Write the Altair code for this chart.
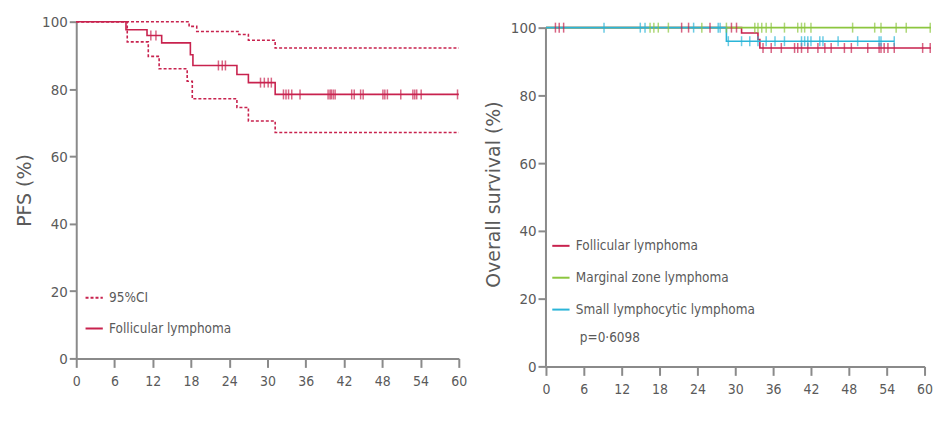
import altair as alt
import pandas as pd

# ---------------- Left panel: PFS, follicular lymphoma ----------------
pfs_month = [0, 7.8, 11.1, 13.4, 17.9, 18.3, 25.2, 27.0, 31.2, 60]
pfs_value = [100, 97.6, 95.9, 93.7, 90.2, 87.0, 84.3, 81.9, 78.4, 78.4]
ci_upper_month = [0, 17.7, 18.9, 25.5, 27.0, 31.2, 60]
ci_upper_value = [100, 98.6, 97.1, 96.2, 94.5, 92.2, 92.2]
ci_lower_month = [0, 8.0, 11.3, 13.0, 17.4, 18.2, 25.2, 27.0, 31.2, 60]
ci_lower_value = [100, 94.0, 89.7, 86.0, 82.3, 77.1, 74.5, 70.5, 67.1, 67.1]
pfs_censor_month = [11.7, 12.5, 22.3, 22.9, 23.4, 28.9, 29.5, 30.1, 30.6,
                    32.5, 32.9, 33.3, 33.8, 35.1, 39.5, 39.8, 40.0, 40.3, 40.6,
                    43.2, 43.6, 44.6, 45.0, 48.1, 48.4, 48.8, 50.9, 52.8, 53.1,
                    53.4, 54.1, 59.8]
pfs_censor_value = [95.9, 95.9, 87.0, 87.0, 87.0, 81.9, 81.9, 81.9, 81.9,
                    78.4, 78.4, 78.4, 78.4, 78.4, 78.4, 78.4, 78.4, 78.4, 78.4,
                    78.4, 78.4, 78.4, 78.4, 78.4, 78.4, 78.4, 78.4, 78.4, 78.4,
                    78.4, 78.4, 78.4]

# ---------------- Right panel: overall survival ----------------
groups = ["Follicular lymphoma", "Marginal zone lymphoma", "Small lymphocytic lymphoma"]
group_colors = ["#c8224e", "#8cc63f", "#2bb5d8"]
fl_month = [0, 31.0, 33.6, 33.9, 61.0]
fl_value = [100, 98.4, 96.5, 94.0, 94.0]
mzl_month = [0, 61.0]
mzl_value = [100, 100]
sll_month = [0, 28.6, 55.2]
sll_value = [100, 96.0, 96.0]
fl_censor_month = [1.5, 2.1, 2.8, 21.5, 22.6, 26.0, 29.4, 30.2,
                   34.4, 35.7, 37.3, 39.4, 39.9, 40.5, 41.5, 43.1, 44.2, 45.2,
                   47.3, 48.4, 51.0, 52.8, 53.1, 53.6, 54.2, 55.2, 59.7, 60.9]
fl_censor_value = [100] * 8 + [94.0] * 20
mzl_censor_month = [16.5, 17.1, 17.8, 19.4, 24.7, 28.6, 33.1, 33.6, 34.2, 34.9,
                    35.7, 37.8, 39.9, 40.5, 41.0, 42.0, 48.6, 52.1, 53.1, 55.5,
                    57.1, 60.9]
mzl_censor_value = [100] * 22
sll_censor_month = [9.2, 14.95, 15.7, 23.4, 27.3, 27.6,
                    28.9, 31.0, 32.3, 33.6, 34.9, 36.3, 37.8, 40.5, 41.0, 41.5,
                    42.0, 43.4, 43.9, 46.3, 49.4, 52.8, 53.1, 55.2]
sll_censor_value = [100] * 6 + [96.0] * 18
p_text = ["p=0·6098"]

x_ticks = [0, 6, 12, 18, 24, 30, 36, 42, 48, 54, 60]
y_ticks = [0, 20, 40, 60, 80, 100]

RED = "#c8224e"
AXIS = "#8a8a8a"
LABEL = "#5a5a5a"
NARROW = "DejaVu Sans Condensed, sans-serif"
TITLEF = "DejaVu Sans, sans-serif"

# ---------- build tables ----------
left_lines = pd.concat([
    pd.DataFrame({"month": pfs_month, "value": pfs_value,
                  "series": "Follicular lymphoma", "part": "km"}),
    pd.DataFrame({"month": ci_upper_month, "value": ci_upper_value,
                  "series": "95%CI", "part": "upper"}),
    pd.DataFrame({"month": ci_lower_month, "value": ci_lower_value,
                  "series": "95%CI", "part": "lower"}),
])
left_cens = pd.DataFrame({"month": pfs_censor_month, "value": pfs_censor_value})

right_lines = pd.concat([
    pd.DataFrame({"month": fl_month, "value": fl_value, "group": groups[0], "ord": 0}),
    pd.DataFrame({"month": mzl_month, "value": mzl_value, "group": groups[1], "ord": 1}),
    pd.DataFrame({"month": sll_month, "value": sll_value, "group": groups[2], "ord": 2}),
])
right_cens = pd.concat([
    pd.DataFrame({"month": fl_censor_month, "value": fl_censor_value, "group": groups[0], "ord": 0}),
    pd.DataFrame({"month": mzl_censor_month, "value": mzl_censor_value, "group": groups[1], "ord": 1}),
    pd.DataFrame({"month": sll_censor_month, "value": sll_censor_value, "group": groups[2], "ord": 2}),
])
right_axis = pd.DataFrame({"month": [0], "lo": [0], "hi": [100]})


def x_axis():
    return alt.Axis(values=x_ticks, title=None, grid=False, domainColor=AXIS,
                    domainWidth=2, tickColor=AXIS, tickWidth=2, tickSize=9,
                    labelFont=NARROW, labelFontSize=14, labelColor=LABEL,
                    labelPadding=7, labelFlush=False, labelOverlap=False)


def y_axis(title, domain=True, tick_size=7):
    return alt.Axis(values=y_ticks, title=title, grid=False, domain=domain,
                    domainColor=AXIS, domainWidth=2, tickColor=AXIS, tickWidth=2,
                    tickSize=tick_size, labelFont=NARROW, labelFontSize=15,
                    labelColor=LABEL, labelPadding=2, titleFont=TITLEF,
                    titleFontSize=19, titleFontWeight="normal", titleColor=LABEL,
                    titlePadding=7)


# ---------- left chart ----------
lx = alt.X("month:Q", scale=alt.Scale(domain=[0, 60], nice=False), axis=x_axis())
ly = alt.Y("value:Q", scale=alt.Scale(domain=[0, 100], nice=False),
           axis=y_axis("PFS (%)"))

left_line = alt.Chart(left_lines).mark_line(
    interpolate="step-after", color=RED, strokeWidth=1.6
).encode(
    x=lx, y=ly,
    strokeDash=alt.StrokeDash(
        "series:N",
        scale=alt.Scale(domain=["95%CI", "Follicular lymphoma"],
                        range=[[3, 2], [1, 0]]),
        legend=alt.Legend(title=None, orient="none", legendX=8, legendY=267,
                          symbolType="stroke", symbolStrokeColor=RED,
                          symbolStrokeWidth=2, symbolSize=300,
                          labelFont=NARROW, labelFontSize=13.5, labelColor=LABEL,
                          labelLimit=0, rowPadding=14, labelOffset=5),
    ),
    detail="part:N",
)
left_tick = alt.Chart(left_cens).mark_tick(
    orient="vertical", color=RED, size=10, thickness=1.5
).encode(x=lx, y=ly)

left = alt.layer(left_line, left_tick).properties(width=384, height=338)

# ---------- right chart ----------
rx = alt.X("month:Q", scale=alt.Scale(domain=[0, 60], nice=False), axis=x_axis())
ry = alt.Y("value:Q", scale=alt.Scale(domain=[0, 101.76], nice=False),
           axis=y_axis("Overall survival (%)", domain=False, tick_size=8))
color = alt.Color(
    "group:N",
    scale=alt.Scale(domain=groups, range=group_colors),
    legend=alt.Legend(title=None, orient="none", legendX=5, legendY=215,
                      symbolType="stroke", symbolStrokeWidth=2, symbolSize=300,
                      labelFont=NARROW, labelFontSize=13.5, labelColor=LABEL,
                      labelLimit=0, rowPadding=15, labelOffset=5),
)

axis_rule = alt.Chart(right_axis).mark_rule(color=AXIS, strokeWidth=2).encode(
    x=rx, y=alt.Y("lo:Q", scale=alt.Scale(domain=[0, 101.76], nice=False),
                  axis=y_axis("Overall survival (%)", domain=False, tick_size=8)),
    y2="hi:Q",
)
right_line = alt.Chart(right_lines).mark_line(
    interpolate="step-after", strokeWidth=1.6
).encode(x=rx, y=ry, color=color, order="ord:Q", detail="group:N")
right_tick = alt.Chart(right_cens).mark_tick(
    orient="vertical", size=10, thickness=1.5
).encode(x=rx, y=ry, color=alt.Color("group:N", scale=alt.Scale(domain=groups, range=group_colors), legend=None))
p_mark = alt.Chart(pd.DataFrame({"t": p_text})).mark_text(
    align="left", baseline="middle", font=NARROW, fontSize=13.5, color=LABEL
).encode(text="t:N", x=alt.value(34), y=alt.value(318))

right = alt.layer(axis_rule, right_line, right_tick, p_mark).properties(
    width=380, height=346)

chart = alt.hconcat(left, right, spacing=16.5).resolve_scale(
    x="independent", y="independent", color="independent", strokeDash="independent"
).properties(
    padding={"left": 7.5, "top": 6, "right": 0, "bottom": 0},
    background="white",
).configure_view(stroke=None)

chart.save("out.html", embed_options={"renderer": "svg", "actions": False})
